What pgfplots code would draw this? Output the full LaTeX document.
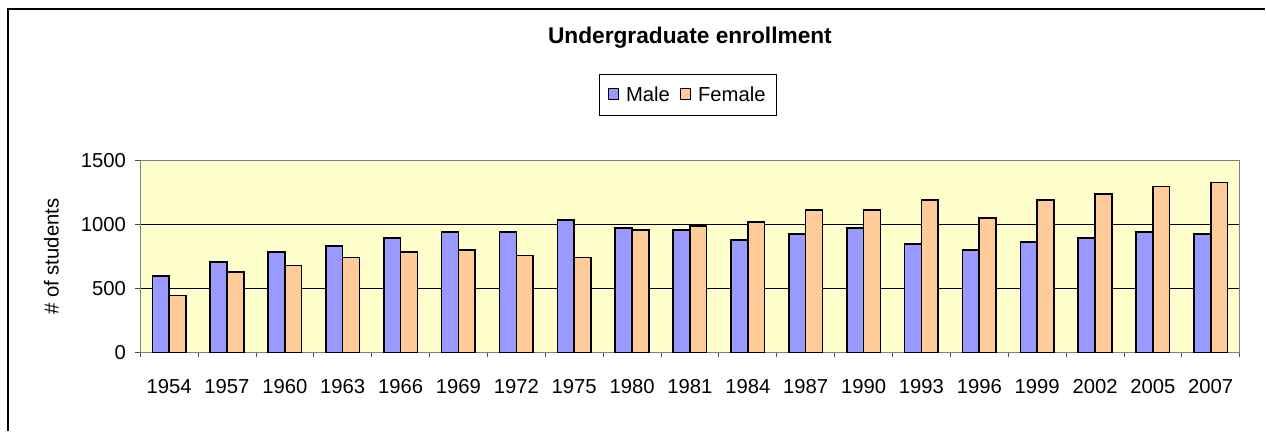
\documentclass[border=0pt]{standalone}
\usepackage{fontspec}
\setmainfont{Liberation Sans}
\usepackage{pgfplots}
\usepackage{pgfplotstable}
\pgfplotsset{compat=1.18}

\definecolor{male}{HTML}{9999FF}
\definecolor{female}{HTML}{FFCC99}
\definecolor{plotbg}{HTML}{FFFFCC}

% enrollment counts
\pgfplotstableread{
idx year male female
0  1954 600  445
1  1957 709  631
2  1960 786  680
3  1963 833  742
4  1966 897  786
5  1969 941  802
6  1972 941  758
7  1975 1037 742
8  1980 975  959
9  1981 959  990
10 1984 879  1021
11 1987 926  1115
12 1990 975  1115
13 1993 848  1192
14 1996 802  1052
15 1999 864  1192
16 2002 897  1239
17 2005 941  1298
18 2007 926  1332
}\enroll

\begin{document}
\begin{tikzpicture}
  \begin{axis}[
    scale only axis, width=1114pt, height=194pt,
    ybar=0pt, bar width=17pt,
    xmin=-0.5, xmax=18.5, ymin=0, ymax=1500,
    xtick={0,...,18}, xticklabels from table={\enroll}{year},
    minor xtick={-0.5,0.5,...,18.5},
    ytick={0,500,1000,1500},
    tick align=outside, tick pos=left,
    major tick length=5pt, minor tick length=5pt,
    major x tick style={draw=none},
    minor x tick style={black!70, line width=0.8pt},
    y tick style={black!70, line width=0.8pt},
    axis line style={black!50, line width=0.8pt},
    axis background/.style={fill=plotbg},
    ymajorgrids, grid style={black, line width=0.8pt},
    /pgf/number format/assume math mode=true,
    /pgf/number format/1000 sep={},
    tick label style={font=\fontsize{20.5}{24}\selectfont},
    yticklabel style={xshift=-6pt},
    xticklabel style={yshift=-19pt},
    ylabel={\# of students},
    ylabel style={at={(axis description cs:-0.0808,0.5)}, anchor=center, font=\fontsize{20.5}{24}\selectfont},
    title={Undergraduate enrollment},
    title style={at={(axis description cs:0.5,1)}, anchor=base, yshift=113pt, font=\bfseries\fontsize{23}{28}\selectfont},
    legend columns=2,
    legend style={at={(axis description cs:0.498,1.345)}, anchor=center, draw=black, line width=0.8pt,
      font=\fontsize{20.5}{24}\selectfont, inner xsep=9pt, inner ysep=11pt,
      /tikz/every even column/.append style={column sep=8pt}},
    legend image code/.code={\draw[#1, line width=1pt] (0pt,-5pt) rectangle (10pt,6pt); \path[draw=none, fill=none] (0pt,0pt) -- (16pt,0pt);},
  ]
    \addplot[fill=male, draw=black, line width=1.6pt] table[x=idx, y=male] {\enroll};
    \addplot[fill=female, draw=black, line width=1.6pt] table[x=idx, y=female] {\enroll};
    \legend{Male, Female}
  \end{axis}
  % chart area frame, only its top and left edges fall inside the picture
  \draw[line width=1.3pt] ([xshift=-134pt,yshift=-80pt]current axis.south west) -- ([xshift=-134pt,yshift=348pt]current axis.south west) -- ([xshift=1140pt,yshift=348pt]current axis.south west);
  \path[use as bounding box] ([xshift=-142pt,yshift=-69pt]current axis.south west) rectangle ++(1266pt,426pt);
\end{tikzpicture}
\end{document}
